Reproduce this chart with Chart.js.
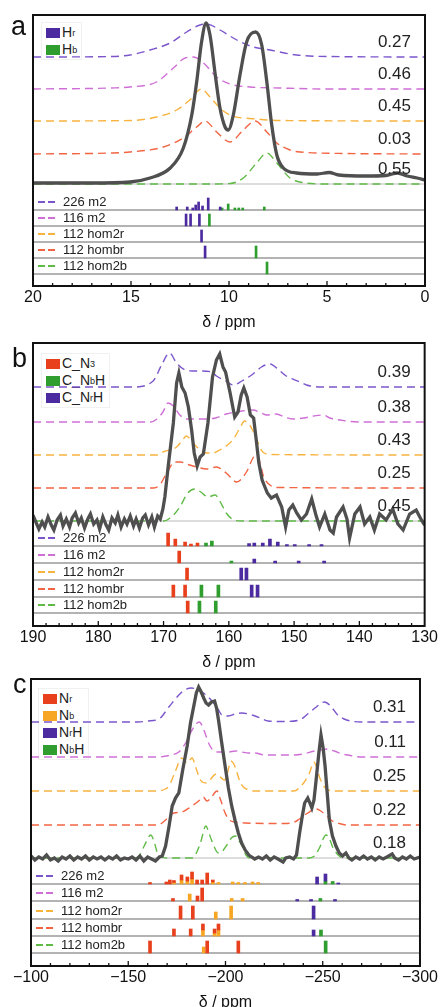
<!DOCTYPE html>
<html>
<head>
<meta charset="utf-8">
<script src="https://cdn.jsdelivr.net/npm/chart.js@4.4.0/dist/chart.umd.min.js"></script>
<style>
  body { margin: 0; width: 440px; height: 1007px; overflow: hidden; background: #fff;
         font-family: "Liberation Sans", Arial, sans-serif; position: relative; }
  .box { position: absolute; left: 0; width: 440px; z-index: 1; }
  .letter { position: absolute; font-size: 27px; line-height: 27px; color: #111; z-index: 2; }
  .leg { position: absolute; background: #fff; border: 1px solid #f1f1f1; padding: 1px 4px 1px 4px;
         font-size: 14px; color: #222; z-index: 0; }
  .leg div { height: 17px; line-height: 17px; display: flex; align-items: center; white-space: nowrap; }
  .leg i { display: inline-block; width: 14px; height: 10px; margin-right: 2px; }
  .leg sub { font-size: 9px; line-height: 0; vertical-align: -3px; }
</style>
</head>
<body>
<div class="letter" style="left:11px;top:13px">a</div>
<div class="letter" style="left:12px;top:345px">b</div>
<div class="letter" style="left:13px;top:671px">c</div>

<div class="leg" style="left:41px;top:22px">
  <div><i style="background:#4b2b9f"></i>H<sub>r</sub></div>
  <div><i style="background:#2f9e2f"></i>H<sub>b</sub></div>
</div>
<div class="leg" style="left:41px;top:353px">
  <div><i style="background:#e8401c"></i>C_N<sub>3</sub></div>
  <div><i style="background:#2f9e2f"></i>C_N<sub>b</sub>H</div>
  <div><i style="background:#4b2b9f"></i>C_N<sub>r</sub>H</div>
</div>
<div class="leg" style="left:38px;top:688px">
  <div><i style="background:#e8401c"></i>N<sub>r</sub></div>
  <div><i style="background:#f6a623"></i>N<sub>b</sub></div>
  <div><i style="background:#4b2b9f"></i>N<sub>r</sub>H</div>
  <div><i style="background:#2f9e2f"></i>N<sub>b</sub>H</div>
</div>

<div class="box" style="top:0;height:332px"><canvas id="pa"></canvas></div>
<div class="box" style="top:330px;height:342px"><canvas id="pb"></canvas></div>
<div class="box" style="top:672px;height:340px"><canvas id="pc"></canvas></div>

<script>
// model structures, shared by all three panels
const models = ['226 m2', '116 m2', '112 hom2r', '112 hombr', '112 hom2b'];
const modelColors = ['#7b55cc', '#cf6fd6', '#f8b33f', '#f26442', '#5fba46'];
const stickColors = { P: '#4b2b9f', G: '#2f9e2f', R: '#e8401c', O: '#f6a623' };

// ---- a: 1H, ppm / intensity ----
const aExp = [[20,1],[17,1],[15.05,2],[14.03,6],[13.0,16],[12.33,36],[11.9,69],[11.65,102],[11.4,142],[11.17,161],[10.97,149],[10.7,109],[10.46,76],[10.2,57],[10.04,54],[9.78,69],[9.44,109],[9.1,142],[8.64,152],[8.33,139],[8.07,102],[7.82,59],[7.56,29],[7.23,16],[6.55,11],[5.5,10],[4.9,11.5],[4.4,9],[3,8],[2,8.5],[1.4,11],[0.9,8],[0.4,6],[0,4]];
const a226 = [[20,0],[16,0.5],[15.05,2],[14.03,7],[13.0,14],[12.16,25],[11.48,32],[11.14,33],[10.46,27],[9.6,17],[8.76,10],[7.9,7],[6.55,2],[5,0.5],[0,0]];
const a116 = [[20,0],[16,1],[15.05,2],[13.7,7],[12.84,21],[12.24,31],[11.8,32],[11.3,26],[10.63,12],[9.95,5],[8.93,2],[7.4,1],[5,0],[0,0]];
const aHom2r = [[20,0],[15,0.5],[13.7,4],[12.67,11],[12.0,21],[11.4,32],[10.97,24],[10.46,13],[9.95,6],[8.59,2],[7.4,0.5],[0,0]];
const aHombr = [[20,0],[16,1],[15.05,2],[13.35,7],[12.33,16],[11.65,27],[11.22,33],[10.63,22],[9.95,12],[9.27,24],[8.67,33],[8.07,22],[7.56,11],[6.89,4],[6.38,2],[4,0.5],[0,0]];
const aHom2b = [[20,0],[11,0],[9.95,0.5],[9.27,6],[8.59,21],[8.07,31],[7.56,21],[6.89,6],[6.38,2],[5,0],[0,0]];
const aFit = ['0.27', '0.46', '0.45', '0.03', '0.55'];
// sticks: [ppm, height, site]; equal ppm in a row stack up
const aSticks = [
  [[12.67,3,'P'],[12.13,3,'P'],[11.85,2,'P'],[11.7,5,'P'],[11.55,8,'P'],[11.35,4,'P'],[11.06,12,'P'],[10.45,3,'P'],[10.35,2,'G'],[10.04,6,'G'],[9.7,2,'G'],[9.5,2,'G'],[9.3,2,'G'],[8.2,3,'G']],
  [[12.19,12,'P'],[11.96,12,'P'],[11.51,12,'P'],[11.0,12,'G']],
  [[11.4,12,'P']],
  [[11.22,12,'P'],[8.62,12,'G']],
  [[8.06,12,'G']]
];

// ---- b: 13C ----
const bExp = [[190,6],[189.5,-2],[189.1,-8],[188.6,-1],[188.2,-6],[187.7,4],[187.2,-4],[186.8,-9],[186.3,1],[185.8,6],[185.4,-5],[184.9,2],[184.4,-6],[184,3],[183.5,8],[183,-2],[182.6,3],[182.1,-7],[181.6,2],[181.2,7],[180.7,-3],[180.2,1],[179.8,-8],[179.3,4],[178.8,-4],[178.4,-9],[177.9,3],[177.4,-2],[177,6],[176.5,-6],[176,2],[175.6,-3],[175.1,5],[174.6,-5],[174.2,2],[173.7,-7],[173.2,3],[172.8,6],[172.3,-4],[171.8,4],[171.4,-6],[170.9,5],[170.5,2],
  [170.1,12],[169.8,24],[169.3,54],[168.5,98],[168,138],[167.65,148],[167.2,134],[166.7,128],[166.2,114],[165.7,91],[165.3,68],[164.85,55],[164.4,64],[163.9,67],[163.2,98],[162.5,144],[161.9,161],[161.4,167],[160.9,154],[160.5,149],[159.8,128],[159.1,104],[158.6,109],[158.1,126],[157.7,133],[157.2,124],[156.7,106],[156.2,103],[155.8,81],[155.4,58],[154.9,41],[154.6,36],[154.1,28],[153.5,23],[152.7,26],[151.9,14],[151.3,-6],[150.8,11],[150.2,16],[149.6,8],[148.9,1],[148.1,7],[147.3,22],[146.7,7],[146.1,-6],[145.3,7],[144.5,-9],[144,-12],[143.5,4],[142.5,14],[141.9,2],[141.5,-17],[140.7,7],[139.9,14],[139.2,-3],[138.4,4],[137.7,-9],[136.9,7],[135.9,1],[134.9,12],[134.1,-3],[133.3,-9],[132.3,7],[131.3,11],[130.5,1],[130,-4]];
const b226 = [[190,0],[174.7,0],[171.6,6],[170.3,22],[169.1,34],[168.0,24],[166.7,17],[165.5,16],[164.4,16],[162.6,15],[161.9,11],[160.5,6],[159.3,2],[158.0,6],[156.3,13],[155,20],[153.7,23],[152.5,18],[151.2,11],[149.1,5],[148.1,2],[146,0],[130,0]];
const b116 = [[190,0],[172,0],[171,3],[170.1,10],[169.3,19],[168.5,16],[167.5,7],[166.5,3],[164,3],[162,4],[160.4,8],[158,11],[156.3,12],[155,9],[154.2,7],[152.7,8],[151.5,5],[150.2,3],[148.5,4],[147,6],[145.6,7],[144.5,4],[143,2],[140,0],[130,0]];
const bHom2r = [[190,0],[171,0],[170.1,3],[168.0,8],[167.2,14],[166.5,19],[165.7,14],[164.9,8],[163.4,2],[162.5,2],[161.4,5],[159.4,15],[158.3,27],[157.6,34],[156.8,30],[156.3,24],[155.5,12],[154.8,3],[153.5,0.5],[130,0]];
const bHombr = [[190,0],[171.5,0],[170.6,3],[169.5,15],[168.3,26],[167.4,26],[166.5,24],[164.9,21],[163.4,19],[161.9,21],[160.4,15],[158.8,6],[157.3,16],[156.3,30],[155.9,33],[155.3,27],[154.7,12],[153.5,2],[152.5,0.5],[130,0]];
const bHom2b = [[190,0],[170,0],[168.8,4],[167.5,14],[166.3,28],[165.2,32],[164.3,29],[163.2,24],[162.1,26],[161.3,19],[160.4,8],[159.2,1],[158,0],[130,0]];
const bFit = ['0.39', '0.38', '0.43', '0.25', '0.45'];
const bSticks = [
  [[169.3,13,'R'],[168.2,7,'R'],[166.7,4,'R'],[165.8,2,'R'],[164.8,3,'R'],[163.5,3,'G'],[162.6,5,'G'],[156.9,2.5,'P'],[156.1,3,'P'],[154.8,3,'P'],[153.7,7,'P'],[152.5,4,'P'],[151.1,1.5,'P'],[149.9,1.5,'P'],[147.7,1.5,'P'],[145.8,1.5,'P']],
  [[167.6,12,'R'],[159.6,2,'G'],[156.1,4,'P'],[152.9,2,'P'],[149.3,2,'P'],[145.4,2,'P']],
  [[166.4,12,'R'],[158.1,12,'P'],[157.3,12,'P']],
  [[168.5,12,'R'],[166.7,12,'R'],[164.2,12,'G'],[161.6,12,'G'],[156.5,12,'P'],[155.6,12,'P']],
  [[166.3,12,'R'],[164.5,12,'G'],[162.0,12,'G']]
];

// ---- c: 15N ----
const cExp = [[-100,2],[-102,-2],[-104,1],[-106,-1],[-108,3],[-110,-2],[-112,0],[-114,-3],[-116,1],[-118,-1],[-120,2],[-122,-2],[-124,1],[-126,-1],[-128,2],[-130,-2],[-132,1],[-134,-1],[-136,1],[-138,-2],[-140,1],[-142,-1],[-144,2],[-146,-2],[-148,0],[-150,-1],[-152,1],[-154,-2],[-156,2],[-158,-3],[-160,1],[-162,-1],[-164,-3],[-166,1],[-167.5,2],
  [-169.2,12],[-171,32],[-172.6,52],[-174.3,60],[-176,65],[-178,88],[-180.3,112],[-182,135],[-183.7,152],[-185,165],[-186.2,171],[-187.5,166],[-188.8,160],[-190,155],[-191.3,153],[-192.8,156],[-194.4,157],[-195.4,150],[-196.4,138],[-198,116],[-199.8,92],[-201.5,70],[-203.2,52],[-205,37],[-206.6,25],[-208.3,15],[-210.1,8],[-212,3],[-213.4,1],[-215,-1],[-217,1],[-219,-1],[-221,2],[-223,-2],[-225,1],[-227,-1],[-229.6,-4],[-231,0],[-233,1],[-235,-1],[-236.5,3],
  [-238.1,25],[-239.5,42],[-240.7,55],[-242.3,60],[-243.4,55],[-244.4,50],[-245.5,58],[-246.6,78],[-248,105],[-249.1,123],[-250.2,110],[-251.2,92],[-252.3,65],[-253.4,38],[-255,22],[-256.8,12],[-258.5,5],[-260.2,2],[-261.9,5],[-263.5,0],[-265,-2],[-267,1],[-269,-1],[-271,2],[-273,-1],[-275,1],[-277,-2],[-279,1],[-281,-1],[-283,1],[-285.7,4],[-287,0],[-289,-2],[-291,1],[-293,-1],[-295,2],[-297,-1],[-300,1]];
const c226 = [[-100,0],[-155,0],[-160,1],[-165.8,3],[-170.9,15],[-176,27],[-179,32],[-182.5,34],[-185,33],[-187.9,30],[-190,27],[-193,21],[-196.4,12],[-198.1,7],[-201.5,6],[-204.9,8],[-208.3,9],[-212,8],[-215.2,6],[-218,4],[-221.9,1],[-230,0.5],[-238,2],[-242.3,8],[-246,14],[-250.9,20],[-254,16],[-257.7,7],[-261,3],[-264.4,1],[-270,0],[-300,0]];
const c116 = [[-100,0],[-165,0],[-172,2],[-176,5],[-179.5,14],[-182.8,27],[-186.5,35],[-188.3,30],[-190,21],[-191.8,12],[-193.5,7],[-196,5],[-201.5,5],[-205,6],[-208.3,5],[-212,4],[-215.2,4],[-220,2],[-230,2],[-235.6,2],[-240,3],[-245.8,6],[-249,7],[-252.6,8],[-256,6],[-260,3],[-262.8,2],[-270,0],[-300,0]];
const cHom2r = [[-100,0],[-165,0],[-169,2],[-170.9,5],[-174.3,20],[-177.4,33],[-180.3,28],[-182.8,33],[-185,22],[-187.1,11],[-190,8],[-195.3,17],[-199.5,11],[-201,18],[-202.8,30],[-204.3,27],[-205.8,19],[-207.5,9],[-209.2,4],[-212,1],[-215,0],[-235,0],[-238.9,5],[-243.2,18],[-245.4,29],[-246.8,24],[-248.3,14],[-250.9,4],[-253,1],[-256,0],[-300,0]];
const cHombr = [[-100,0],[-165,0],[-169.2,5],[-171.5,10],[-173.5,12],[-177.7,13],[-182,18],[-186.2,24],[-188.5,28],[-190.5,24],[-192.5,27],[-195.6,34],[-197.5,25],[-199.8,12],[-202,5],[-204.9,3],[-210,2],[-230,1.5],[-235.6,3],[-238,6],[-242.3,12],[-246.6,16],[-249,14],[-252.6,8],[-255,4],[-257.7,2],[-262,0],[-300,0]];
const cHom2b = [[-100,0],[-153,0],[-155.6,2],[-158.2,12],[-161.6,23],[-163.5,15],[-165,5],[-167,1],[-170,0],[-183,0],[-184.5,3],[-187.1,15],[-189.9,32],[-191.5,25],[-193,17],[-196.4,5],[-198.5,7],[-200.7,13],[-203,20],[-205.2,22],[-207,17],[-208.3,13],[-210.5,3],[-213,0],[-243,0],[-245.8,2],[-248.3,10],[-251.7,23],[-253.5,19],[-255.1,11],[-258.5,2],[-261,0],[-300,0]];
const cFit = ['0.31', '0.11', '0.25', '0.22', '0.18'];
const cSticks = [
  [[-161.2,1.5,'R'],[-169.6,2,'R'],[-171.4,4,'R'],[-173.5,1.5,'O'],[-173.5,2,'R'],[-177.4,4,'O'],[-177.4,5,'R'],[-180.4,3,'O'],[-180.4,4,'R'],[-182.8,5,'O'],[-182.8,7,'R'],[-185.4,4,'R'],[-188,4,'R'],[-190.6,11,'R'],[-193.5,2,'O'],[-193.5,2,'R'],[-196.4,1.5,'O'],[-203.7,2,'O'],[-206.6,1.5,'O'],[-210,1.5,'O'],[-213.9,2,'O'],[-216.8,1.5,'O'],[-247.1,7,'P'],[-251.4,3,'G'],[-251.4,7,'P'],[-255.1,2.5,'G'],[-258,1,'P']],
  [[-173,2.5,'R'],[-181.6,7,'O'],[-185.6,5,'R'],[-188,13,'R'],[-203.2,2.5,'O'],[-208.8,2.5,'O'],[-236.9,1.5,'P'],[-244,1.5,'P'],[-248.8,2.5,'G'],[-256.3,1.5,'P']],
  [[-176.9,13,'R'],[-183.2,13,'R'],[-195,7,'O'],[-202.9,13,'O'],[-245.3,13,'P']],
  [[-173.5,7,'R'],[-182.1,7,'R'],[-188.4,6,'O'],[-188.4,6,'R'],[-194.4,3,'O'],[-194.4,4,'R'],[-196.4,6,'O'],[-196.4,6,'R'],[-245.3,6,'P'],[-249.1,6,'G']],
  [[-161.2,12,'R'],[-188.8,6,'O'],[-190.6,12,'R'],[-206.6,12,'R'],[-251.5,12,'G']]
];

Chart.defaults.font.family = '"Liberation Sans", Arial, sans-serif';
Chart.defaults.color = '#111';
Chart.defaults.animation = false;

function hline(ctx, area, y) {
  ctx.beginPath();
  ctx.moveTo(area.left, y);
  ctx.lineTo(area.right, y);
  ctx.stroke();
}

function makeChart(p) {
  const lift = (pts, b) => pts.map(([x, y]) => ({ x, y: y + b }));
  const sets = [{
    type: 'line', data: lift(p.exp, p.base[4]), borderColor: '#4f4f4f', borderWidth: 3.3,
    pointRadius: 0, tension: 0, cubicInterpolationMode: p.smooth ? 'monotone' : 'default', order: 0
  }];
  p.curves.forEach((c, i) => sets.push({
    type: 'line', data: lift(c, p.base[i]), borderColor: modelColors[i], borderWidth: 1.4,
    borderDash: [8, 5], pointRadius: 0, cubicInterpolationMode: 'monotone', order: 1
  }));

  // stick spectra as floating bars sitting on each row line
  const bars = {};
  p.sticks.forEach((row, r) => {
    let prev = null, top = 0;
    row.forEach(([x, h, k]) => {
      const lo = x === prev ? top : 0;
      top = lo + h;
      prev = x;
      (bars[k] = bars[k] || []).push({ x, y: [p.rows[r] + lo, p.rows[r] + top] });
    });
  });
  Object.keys(bars).forEach(k => sets.push({
    type: 'bar', data: bars[k], backgroundColor: stickColors[k], barThickness: p.barW,
    grouped: false, borderWidth: 0, order: 2
  }));

  const frame = {
    id: 'frame',
    beforeDatasetsDraw(chart) {
      const { ctx, chartArea: a, scales: { y } } = chart;
      ctx.save();
      ctx.lineWidth = 1.5;
      ctx.strokeStyle = '#d2d2d2';
      hline(ctx, a, y.getPixelForValue(p.base[4]));
      ctx.strokeStyle = '#9a9a9a';
      p.rows.forEach(r => hline(ctx, a, y.getPixelForValue(r)));
      ctx.restore();
    },
    afterDraw(chart) {
      const { ctx, chartArea: a, scales: { x, y } } = chart;
      ctx.save();
      // inward tick marks on the bottom axis
      ctx.strokeStyle = '#111';
      ctx.lineWidth = 1.3;
      for (let v = p.min + p.minor; v < p.max; v += p.minor) {
        const px = x.getPixelForValue(v);
        const len = Math.abs(v % p.step) < 1e-6 ? 5 : 3;
        ctx.beginPath();
        ctx.moveTo(px, a.bottom);
        ctx.lineTo(px, a.bottom - len);
        ctx.stroke();
      }
      ctx.lineWidth = 2;
      ctx.strokeRect(a.left, a.top, a.right - a.left, a.bottom - a.top);

      // goodness-of-fit numbers above each simulated spectrum
      ctx.fillStyle = '#222';
      ctx.font = '17px "Liberation Sans", Arial, sans-serif';
      ctx.textAlign = 'right';
      ctx.textBaseline = 'middle';
      p.fits.forEach((t, i) => ctx.fillText(t, a.right - 14, y.getPixelForValue(p.base[i]) - 15));

      // model key on the stick rows
      ctx.font = '13px "Liberation Sans", Arial, sans-serif';
      ctx.textAlign = 'left';
      ctx.lineWidth = 2;
      models.forEach((m, i) => {
        const py = y.getPixelForValue(p.rows[i]) - 8;
        ctx.strokeStyle = modelColors[i];
        ctx.beginPath();
        ctx.moveTo(a.left + 5, py); ctx.lineTo(a.left + 12, py);
        ctx.moveTo(a.left + 15, py); ctx.lineTo(a.left + 22, py);
        ctx.stroke();
        ctx.fillText(m, a.left + 30, py);
      });
      ctx.restore();
    }
  };

  return new Chart(document.getElementById(p.id), {
    type: 'line',
    data: { datasets: sets },
    options: {
      responsive: true,
      maintainAspectRatio: false,
      devicePixelRatio: 1,
      layout: { padding: p.pad },
      plugins: { legend: { display: false }, tooltip: { enabled: false } },
      scales: {
        x: {
          type: 'linear', reverse: true, min: p.min, max: p.max, offset: false,
          grid: { display: false, drawTicks: false }, border: { display: false },
          ticks: {
            stepSize: p.step, autoSkip: false, maxRotation: 0, padding: 2, color: '#111',
            font: { size: 16 }, callback: v => (v < 0 ? '\u2212' + Math.abs(v) : String(v))
          },
          title: { display: true, text: 'δ / ppm', font: { size: 16 }, color: '#111', padding: 0 },
          afterFit: s => { s.height = 46; }
        },
        y: { display: false, min: 0, max: p.ymax }
      }
    },
    plugins: [frame]
  });
}

makeChart({
  id: 'pa', min: 0, max: 20, step: 5, minor: 1, ymax: 271,
  base: [229, 197, 165, 132, 102], rows: [76, 60, 44, 28, 12], barW: 2, smooth: true,
  exp: aExp, curves: [a226, a116, aHom2r, aHombr, aHom2b], sticks: aSticks, fits: aFit,
  pad: { top: 15, left: 33, right: 15, bottom: 0 }
});
makeChart({
  id: 'pb', min: 130, max: 190, step: 10, minor: 2, ymax: 283,
  base: [239, 204, 171, 138, 105], rows: [80, 63, 46, 29, 13], barW: 3, smooth: false,
  exp: bExp, curves: [b226, b116, bHom2r, bHombr, bHom2b], sticks: bSticks, fits: bFit,
  pad: { top: 13, left: 33, right: 15, bottom: 0 }
});
makeChart({
  id: 'pc', min: -300, max: -100, step: 50, minor: 10, ymax: 287,
  base: [244, 209, 175, 141, 108], rows: [82, 65, 47, 30, 13], barW: 3, smooth: false,
  exp: cExp, curves: [c226, c116, cHom2r, cHombr, cHom2b], sticks: cSticks, fits: cFit,
  pad: { top: 7, left: 31, right: 17, bottom: 0 }
});
</script>
</body>
</html>
